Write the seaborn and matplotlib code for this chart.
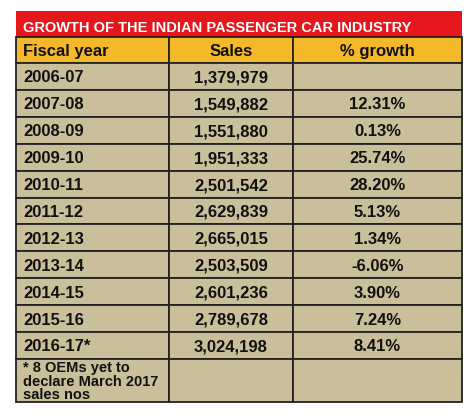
import matplotlib
matplotlib.use('Agg')
import matplotlib.pyplot as plt
import seaborn as sns
from matplotlib.patches import Rectangle

sns.set_style('white')
plt.rcParams['font.family'] = ['Liberation Sans', 'DejaVu Sans']

title = 'GROWTH OF THE INDIAN PASSENGER CAR INDUSTRY'
headers = ['Fiscal year', 'Sales', '% growth']
years = ['2006-07', '2007-08', '2008-09', '2009-10', '2010-11', '2011-12',
         '2012-13', '2013-14', '2014-15', '2015-16', '2016-17*']
sales = [1379979, 1549882, 1551880, 1951333, 2501542, 2629839,
         2665015, 2503509, 2601236, 2789678, 3024198]
growth = [None, 12.31, 0.13, 25.74, 28.20, 5.13, 1.34, -6.06, 3.90, 7.24, 8.41]
footnote = '* 8 OEMs yet to\ndeclare March 2017\nsales nos'

RED, YELLOW, TAN = '#E5161C', '#F4B82A', '#C9BF9B'

fig = plt.figure(figsize=(4.74, 4.14), dpi=100)
ax = fig.add_axes([0, 0, 1, 1])
ax.set_xlim(0, 474)
ax.set_ylim(414, 0)
ax.axis('off')

cols = [16, 169, 293, 462]
row_h = 26.9
y_title, y_head = 12, 38
y0 = 64

# title bar
ax.add_patch(Rectangle((cols[0], y_title), cols[-1] - cols[0], y_head - y_title, fc=RED, ec='none'))
ax.text(cols[0] + 7, y_title + 16, title, color='white', fontsize=10.5, va='center',
        fontweight='semibold')

def cell_row(top, h, fc, texts, size=12, ls=1.0):
    for i in range(3):
        ax.add_patch(Rectangle((cols[i], top), cols[i + 1] - cols[i], h, fc=fc, ec='#222222', lw=1.3))
    for i, t in enumerate(texts):
        if not t:
            continue
        if i == 0:
            ax.text(cols[0] + 7, top + h / 2 + 0.5, t, fontsize=size, fontweight='bold',
                    va='center', ha='left', color='#111111', linespacing=ls)
        else:
            ax.text((cols[i] + cols[i + 1]) / 2, top + h / 2 + 0.5, t, fontsize=size,
                    fontweight='bold', va='center', ha='center', color='#111111')

cell_row(y_head, y0 - y_head, YELLOW, headers)
for k, (yr, s, g) in enumerate(zip(years, sales, growth)):
    gtxt = '' if g is None else f'{g:.2f}%'
    cell_row(y0 + k * row_h, row_h, TAN, [yr, f'{s:,}', gtxt])
top = y0 + len(years) * row_h
cell_row(top, 403 - top, TAN, [footnote, '', ''], size=10.5, ls=0.95)

fig.savefig('out.png', dpi=100)
